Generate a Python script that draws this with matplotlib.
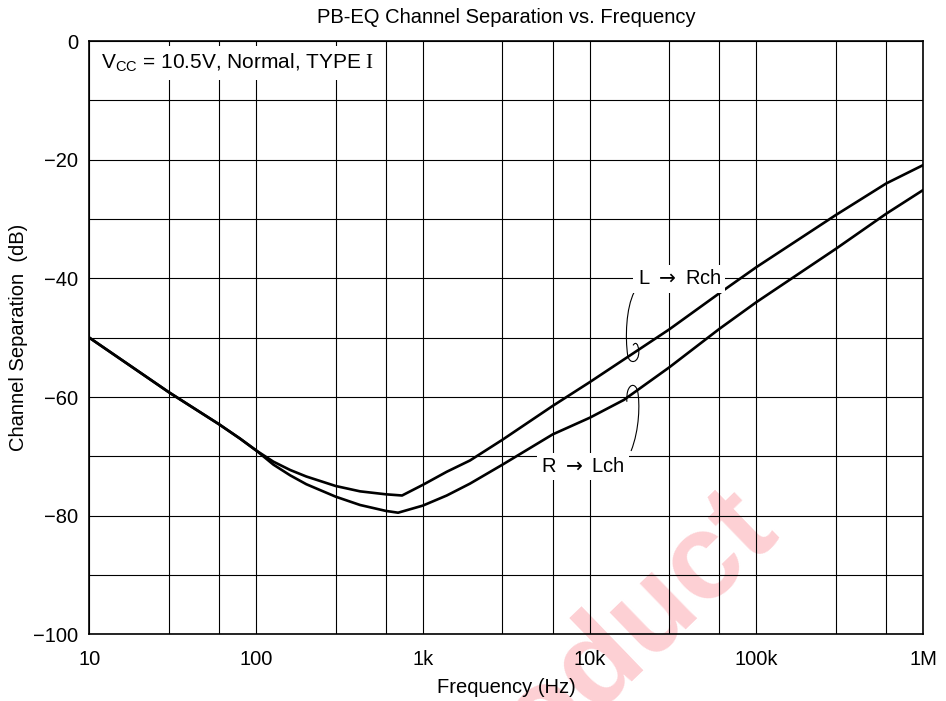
import numpy as np
import matplotlib
matplotlib.use("Agg")
import matplotlib.pyplot as plt
from matplotlib.path import Path
from matplotlib.patches import PathPatch

plt.rcParams['font.family'] = ['Liberation Sans', 'DejaVu Sans']
plt.rcParams['mathtext.fontset'] = 'custom'
plt.rcParams['mathtext.sf'] = 'Liberation Sans'
plt.rcParams['mathtext.rm'] = 'Liberation Serif'

# channel separation curves (Hz, dB)
freq_lr = [10, 30, 60, 80, 100, 127, 160, 200, 300, 420, 600, 750, 1000, 1390,
           1915, 3000, 6000, 10e3, 30e3, 60e3, 100e3, 300e3, 600e3, 1e6]
sep_lr = [-50.0, -59.2, -64.6, -67.0, -69.0, -70.9, -72.3, -73.4, -75.0, -75.9,
          -76.4, -76.6, -74.8, -72.6, -70.7, -67.2, -61.5, -57.5, -48.6, -42.5,
          -38.1, -29.3, -24.0, -20.9]

freq_rl = [10, 30, 60, 80, 100, 127, 160, 200, 300, 420, 600, 710, 1000, 1390,
           1915, 3000, 6000, 10e3, 16e3, 30e3, 60e3, 100e3, 300e3, 600e3, 1e6]
sep_rl = [-50.0, -59.2, -64.6, -67.0, -69.0, -71.4, -73.2, -74.7, -76.8, -78.2,
          -79.2, -79.5, -78.3, -76.6, -74.6, -71.4, -66.3, -63.5, -60.5, -55.0,
          -48.5, -44.0, -35.0, -29.1, -25.1]

xticks = [10, 100, 1e3, 10e3, 100e3, 1e6]
xtick_labels = ['10', '100', '1k', '10k', '100k', '1M']
yticks = [0, -20, -40, -60, -80, -100]

FS = 14.5

fig = plt.figure(figsize=(9.46, 7.01), dpi=100)
ax = fig.add_axes([0.0944, 0.0951, 0.8816, 0.8464])
ax.set_facecolor('none')

# watermark behind the grid
fig.text(0.825, 0.243, 'Product', fontsize=88, fontweight='bold',
         color='#fdd0d4', rotation=44, rotation_mode='anchor',
         ha='right', va='baseline', zorder=-5)

ax.plot(freq_lr, sep_lr, color='black', lw=1.9, zorder=3)
ax.plot(freq_rl, sep_rl, color='black', lw=1.9, zorder=3)

ax.set_xscale('log')
ax.set_xlim(10, 1e6)
ax.set_ylim(-100, 0)
ax.set_xticks(xticks)
ax.set_xticklabels(xtick_labels)
minor_x = [m * d for d in [10, 100, 1e3, 10e3, 100e3] for m in (3, 6)]
ax.set_xticks(minor_x, minor=True)
ax.set_xticklabels([], minor=True)
ax.set_yticks(yticks)
ax.set_yticks(np.arange(-90, 0, 20), minor=True)
ax.tick_params(which='both', length=0, labelsize=FS)
ax.tick_params(axis='x', pad=11)
ax.tick_params(axis='y', pad=8)
ax.grid(True, which='both', color='black', lw=0.8)
ax.set_axisbelow(True)
for s in ax.spines.values():
    s.set_linewidth(1.2)

ax.set_title('PB-EQ Channel Separation vs. Frequency', fontsize=FS, pad=13)
ax.set_xlabel('Frequency (Hz)', fontsize=FS, labelpad=7)
ax.set_ylabel('Channel Separation  (dB)', fontsize=FS, labelpad=4)

ax.text(0.014, 0.963, r'V$_{\mathsf{CC}}$ = 10.5V, Normal, TYPE $\mathrm{I}$',
        transform=ax.transAxes, fontsize=15, ha='left', va='center',
        bbox=dict(facecolor='white', edgecolor='none', pad=4), zorder=5)

# curve labels with leader hooks
label_box = dict(facecolor='white', edgecolor='none', pad=3)
ax.text(34.5e3, -40.1, r'L ${\rightarrow}$ Rch', fontsize=FS, ha='center', va='center',
        math_fontfamily='dejavusans', bbox=label_box, zorder=5)
ax.text(9.15e3, -71.7, r'R ${\rightarrow}$ Lch', fontsize=FS, ha='center', va='center',
        math_fontfamily='dejavusans', bbox=label_box, zorder=5)

lead_lr = Path([(18.5e3, -42.3), (16.5e3, -45.0), (16.3e3, -50.0), (16.9e3, -53.0),
                (17.3e3, -54.6), (19.8e3, -54.3), (19.7e3, -52.3),
                (19.6e3, -51.0), (18.8e3, -50.6), (18.2e3, -51.3)],
               [Path.MOVETO, Path.CURVE4, Path.CURVE4, Path.CURVE4,
                Path.CURVE4, Path.CURVE4, Path.CURVE4,
                Path.CURVE4, Path.CURVE4, Path.CURVE4])
lead_rl = Path([(17.7e3, -69.1), (19.9e3, -65.5), (20.0e3, -61.0), (19.4e3, -59.1),
                (19.0e3, -57.8), (17.5e3, -57.6), (16.9e3, -59.0),
                (16.6e3, -59.8), (16.7e3, -60.8)],
               [Path.MOVETO, Path.CURVE4, Path.CURVE4, Path.CURVE4,
                Path.CURVE4, Path.CURVE4, Path.CURVE4,
                Path.CURVE3, Path.CURVE3])
for p in (lead_lr, lead_rl):
    ax.add_patch(PathPatch(p, facecolor='none', edgecolor='black', lw=0.8, zorder=4))

fig.savefig('out.png', dpi=100)
